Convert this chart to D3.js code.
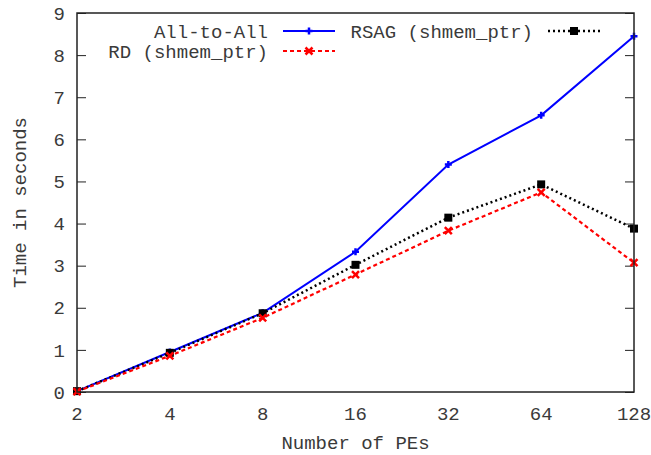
<!DOCTYPE html>
<html>
<head>
<meta charset="utf-8">
<script src="https://cdn.jsdelivr.net/npm/d3@7"></script>
<style>
  body { margin: 0; background: #fff; }
  text { font-family: "Liberation Mono", "DejaVu Sans Mono", monospace; fill: #3a3a3a; }
</style>
</head>
<body>
<div id="chart"></div>
<script>
// data
var pes = ["2", "4", "8", "16", "32", "64", "128"];
var allToAll = [0.02, 0.95, 1.88, 3.33, 5.40, 6.57, 8.45];
var rsag = [0.02, 0.93, 1.87, 3.02, 4.14, 4.93, 3.88];
var rd = [0.01, 0.86, 1.76, 2.79, 3.83, 4.74, 3.07];
var yTicks = [0, 1, 2, 3, 4, 5, 6, 7, 8, 9];

var width = 651, height = 455;
var margin = {top: 13, right: 17, bottom: 63, left: 77};

var svg = d3.select("#chart").append("svg")
    .attr("width", width)
    .attr("height", height);

var x = d3.scalePoint()
    .domain(pes)
    .range([margin.left, width - margin.right]);

var y = d3.scaleLinear()
    .domain([0, 9])
    .range([height - margin.bottom, margin.top]);

// inward y ticks on both sides
svg.append("g")
    .attr("transform", `translate(${margin.left},0)`)
    .call(d3.axisRight(y).tickValues(yTicks).tickSize(9).tickFormat(""))
    .call(g => g.select(".domain").remove())
    .call(g => g.selectAll("line").attr("stroke", "#222"));

svg.append("g")
    .attr("transform", `translate(${width - margin.right},0)`)
    .call(d3.axisLeft(y).tickValues(yTicks).tickSize(9).tickFormat(""))
    .call(g => g.select(".domain").remove())
    .call(g => g.selectAll("line").attr("stroke", "#222"));

// y tick labels
svg.append("g").selectAll("text")
    .data(yTicks)
    .join("text")
    .attr("x", margin.left - 12)
    .attr("y", d => y(d))
    .attr("dy", "0.35em")
    .attr("text-anchor", "end")
    .style("font-size", "19px")
    .text(d => d);

// x tick labels
svg.append("g").selectAll("text")
    .data(pes)
    .join("text")
    .attr("x", d => x(d))
    .attr("y", height - margin.bottom + 28)
    .attr("text-anchor", "middle")
    .style("font-size", "19px")
    .text(d => d);

svg.append("text")
    .attr("x", (margin.left + width - margin.right) / 2)
    .attr("y", 449)
    .attr("text-anchor", "middle")
    .style("font-size", "19px")
    .text("Number of PEs");

svg.append("text")
    .attr("transform", `translate(26,${(margin.top + height - margin.bottom) / 2}) rotate(-90)`)
    .attr("text-anchor", "middle")
    .style("font-size", "19px")
    .text("Time in seconds");

var line = d3.line()
    .x((d, i) => x(pes[i]))
    .y(d => y(d));

var series = [
  {name: "All-to-All", values: allToAll, color: "#0000ff", dash: null, width: 2, marker: "plus"},
  {name: "RSAG (shmem_ptr)", values: rsag, color: "#000000", dash: "2,3", width: 2.5, marker: "square"},
  {name: "RD (shmem_ptr)", values: rd, color: "#ff0000", dash: "4,3", width: 2.2, marker: "cross"}
];

function drawMarker(g, type, color, cx, cy) {
  if (type == "plus") {
    g.append("path")
      .attr("d", `M${cx-3.5},${cy}H${cx+3.5}M${cx},${cy-3.5}V${cy+3.5}`)
      .attr("stroke", color).attr("stroke-width", 2.5);
  } else if (type == "square") {
    g.append("rect")
      .attr("x", cx - 4).attr("y", cy - 4)
      .attr("width", 8).attr("height", 8)
      .attr("fill", color);
  } else {
    g.append("path")
      .attr("d", `M${cx-3.5},${cy-3.5}L${cx+3.5},${cy+3.5}M${cx-3.5},${cy+3.5}L${cx+3.5},${cy-3.5}`)
      .attr("stroke", color).attr("stroke-width", 2.5);
  }
}

series.forEach(function(s) {
  svg.append("path")
    .datum(s.values)
    .attr("fill", "none")
    .attr("stroke", s.color)
    .attr("stroke-width", s.width)
    .attr("stroke-dasharray", s.dash)
    .attr("d", line);
  var mg = svg.append("g");
  s.values.forEach((v, i) => drawMarker(mg, s.marker, s.color, x(pes[i]), y(v)));
});

// frame
svg.append("rect")
    .attr("x", margin.left)
    .attr("y", margin.top)
    .attr("width", width - margin.left - margin.right)
    .attr("height", height - margin.top - margin.bottom)
    .attr("fill", "none")
    .attr("stroke", "#222")
    .attr("stroke-width", 1.5);

// legend (gnuplot style, right aligned text then sample)
var legendPos = [
  {textX: 268, sampleX: 283, y: 31},
  {textX: 533, sampleX: 548, y: 31},
  {textX: 268, sampleX: 283, y: 51}
];
series.forEach(function(s, i) {
  var p = legendPos[i];
  var lg = svg.append("g");
  lg.append("text")
    .attr("x", p.textX)
    .attr("y", p.y)
    .attr("dy", "0.35em")
    .attr("text-anchor", "end")
    .style("font-size", "19px")
    .text(s.name);
  lg.append("line")
    .attr("x1", p.sampleX).attr("x2", p.sampleX + 52)
    .attr("y1", p.y).attr("y2", p.y)
    .attr("stroke", s.color)
    .attr("stroke-width", s.width)
    .attr("stroke-dasharray", s.dash);
  drawMarker(lg, s.marker, s.color, p.sampleX + 26, p.y);
});
</script>
</body>
</html>
